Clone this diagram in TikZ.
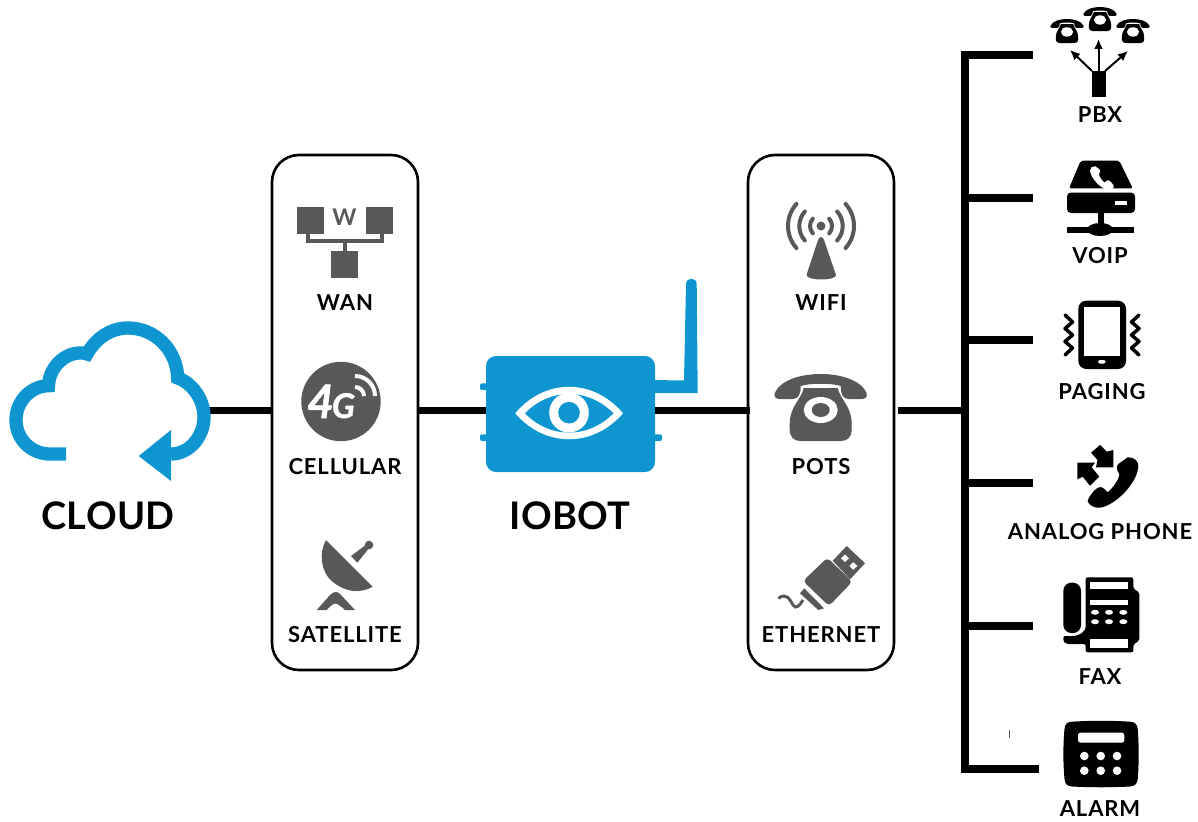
\documentclass[tikz,border=0pt]{standalone}
\usepackage{fontspec}
\setmainfont{Lato}
\newfontfamily\tagfont[LetterSpace=4]{Lato}
\newfontfamily\bigfont[LetterSpace=1]{Lato}
\newfontfamily\markfont[FakeBold=1.2]{Lato}
\usetikzlibrary{arrows.meta}
\definecolor{iobotblue}{HTML}{0F96D1}
\definecolor{icongrey}{HTML}{58585A}
\tikzset{
	panel/.style={draw,line width=2.6pt,rounded corners=27pt,minimum width=146pt,minimum height=515pt,inner sep=0pt},
	wire/.style={line width=7.5pt},
	tag/.style={inner sep=0pt,font=\tagfont\fontsize{22}{25}\selectfont\bfseries},
	bigtag/.style={inner sep=0pt,font=\bigfont\fontsize{38}{42}\selectfont\bfseries},
	fanline/.style={line width=2pt,-{Latex[length=10pt,width=9pt]}},
	pics/deskphone/.style 2 args={code={
		\fill [#1] (-46,19) .. controls (-40,6) and (-20,0) .. (0,0) .. controls (20,0) and (40,6) .. (46,19) .. controls (47,24) and (44,25) .. (40,25) -- (28,25) .. controls (22,25) and (20,20) .. (20,12) .. controls (12,9) and (-12,9) .. (-20,12) .. controls (-20,20) and (-22,25) .. (-28,25) -- (-40,25) .. controls (-44,25) and (-47,24) .. (-46,19) -- cycle;
		\fill [#1] (-17,14) -- (17,14) .. controls (19,25) and (31,32) .. (31,50) -- (31,55) .. controls (31,64) and (26,67) .. (20,67) -- (-20,67) .. controls (-26,67) and (-31,64) .. (-31,55) -- (-31,50) .. controls (-31,32) and (-19,25) .. (-17,14) -- cycle;
		\fill [white] (0,36) ellipse [x radius=17,y radius=13];
		\fill [#2] (0,36) ellipse [x radius=9,y radius=7];
	}},
	pics/handset/.style={code={
		\fill [#1] (14.7,-17.7) .. controls (21,-18.3) and (26,-13.3) .. (25.3,-8.3) .. controls (24.3,5) and (10.3,21.7) .. (-3,29) .. controls (-13,35) and (-21.3,33.3) .. (-25.3,26.7) .. controls (-25.7,23.3) and (-18,13.3) .. (-14,12.3) .. controls (-11.3,11) and (-7,15) .. (-5.7,17.3) .. controls (.3,13.3) and (6.3,3.3) .. (6.3,-.7) .. controls (3.7,-5) and (3,-8.3) .. (5.3,-11) -- cycle;
	}}
}
\begin{document}
\begin{tikzpicture}[x=1pt,y=-1pt]
	\useasboundingbox (0,0) rectangle (1198,821);

	\node [panel] (wanbox) at (345,412.5) {};
	\node [panel] (lanbox) at (821,412.5) {};
	\node [fill=iobotblue,rounded corners=10pt,minimum width=169pt,minimum height=116pt,inner sep=0pt] (iobot) at (570.5,414) {};
	\coordinate (cloudout) at (206,410.5);
	\coordinate (trunkin) at (965,410.5);
	\coordinate (trunktop) at (965,55);
	\coordinate (trunkbot) at (965,769);
	\coordinate (pbxend) at (1033,55);
	\coordinate (voipend) at (1033,198);
	\coordinate (pagingend) at (1033,340);
	\coordinate (analogend) at (1033,483);
	\coordinate (faxend) at (1033,626);
	\coordinate (alarmend) at (1039,769);

	\draw [wire] (cloudout) -- (cloudout -| wanbox.west);
	\draw [wire] (wanbox.east |- cloudout) -- (cloudout -| iobot.west);
	\draw [wire] (iobot.east |- cloudout) -- ([xshift=3pt]cloudout -| lanbox.west);
	\draw [wire] ([xshift=3pt]lanbox.east |- cloudout) -- (trunkin);
	\draw [wire,line cap=rect] (trunktop) -- (trunkbot);
	\draw [wire] (trunktop) -- (pbxend);
	\draw [wire] (trunktop |- voipend) -- (voipend);
	\draw [wire] (trunktop |- pagingend) -- (pagingend);
	\draw [wire] (trunktop |- analogend) -- (analogend);
	\draw [wire] (trunktop |- faxend) -- (faxend);
	\draw [wire] (trunkbot) -- (alarmend);

	\draw [iobotblue,line width=13.3pt,line join=miter] (66,454) -- (50,454) .. controls (31,454) and (16,439) .. (16,420) .. controls (16,401) and (31,386) .. (48.5,385.7) .. controls (49,368) and (64,353) .. (80,353) .. controls (83,353) and (85,353) .. (87,354) .. controls (96,338) and (111,328) .. (128,328) .. controls (155,328) and (177,350) .. (177.7,378) .. controls (192,383) and (204,399) .. (204,417) .. controls (204,437) and (189,454) .. (171,454);
	\fill [iobotblue] (171,430) -- (171,481) -- (138.7,456) -- cycle;
	\node [bigtag] (cloudlabel) at (108,516) {CLOUD};

	\fill [icongrey] (297,207) rectangle (324,234);
	\fill [icongrey] (366,207) rectangle (393,234);
	\fill [icongrey] (331,251) rectangle (358,278);
	\draw [icongrey,line width=4pt] (307.7,234) -- (307.7,241) -- (381.7,241) -- (381.7,234);
	\draw [icongrey,line width=4pt] (344.5,241) -- (344.5,251);
	\node [inner sep=0pt,text=icongrey,font=\fontsize{23}{25}\selectfont\bfseries] (wanmark) at (344.5,217) {W};
	\node [tag] (wanlabel) at (345,302.5) {WAN};

	\fill [icongrey] (341,401.5) circle [radius=39.7];
	\node [inner sep=0pt,anchor=base west,text=white,font=\markfont\bfseries\itshape] (cellmark) at (307,418) {\fontsize{46}{50}\selectfont 4\kern-2pt\fontsize{34}{50}\selectfont G};
	\draw [white,line width=4pt] (355,387) arc [start angle=-90,end angle=0,radius=9];
	\draw [white,line width=4pt] (355,376) arc [start angle=-90,end angle=0,radius=20];
	\node [tag] (celllabel) at (345,466.5) {CELLULAR};

	\fill [icongrey] (326,540) .. controls (319,552) and (320,572) .. (333,582) .. controls (345,592) and (360,594) .. (372.7,586.7) -- cycle;
	\fill [icongrey] (351,556) -- (357.3,562.7) -- (370,547) -- (367,544) -- cycle;
	\fill [icongrey] (369,545) circle [radius=4.3];
	\fill [icongrey] (316.7,610) -- (330,595) .. controls (334,591) and (338,591) .. (341,595) -- (355,610) -- (345,610) .. controls (341,606) and (337,603.5) .. (335.7,603.5) .. controls (334,603.5) and (331,605) .. (326.7,610) -- cycle;
	\node [tag] (satlabel) at (345,634.5) {SATELLITE};

	\fill [iobotblue,rounded corners=2pt] (480,383.3) rectangle (490,390);
	\fill [iobotblue,rounded corners=2pt] (480,434.3) rectangle (490,441);
	\fill [iobotblue,rounded corners=2pt] (650,434.3) rectangle (662,441);
	\fill [iobotblue] (650,380) -- (684,380.5) -- (686,284) .. controls (686,277) and (696.7,277) .. (696.7,284) -- (697.7,393) -- (684,393) -- (650,393) -- cycle;
	\fill [white] (515.3,413.3) .. controls (545,378) and (593,378) .. (623,413.3) .. controls (593,447.9) and (545,447.9) .. (515.3,413.3) -- cycle;
	\fill [iobotblue] (525,413.3) .. controls (550,387.6) and (588,387.6) .. (613.5,413.3) .. controls (588,439) and (550,439) .. (525,413.3) -- cycle;
	\fill [white] (569,412.7) circle [radius=19.8];
	\fill [iobotblue] (569,412.7) circle [radius=10.8];
	\node [bigtag] (iobotlabel) at (570,516) {IOBOT};

	\fill [icongrey] (821,226) circle [radius=4.5];
	\foreach \rad in {11,21.7,33} {
		\draw [icongrey,line width=4pt,line cap=round] (821,226) ++(-42:\rad) arc [start angle=-42,end angle=42,radius=\rad];
		\draw [icongrey,line width=4pt,line cap=round] (821,226) ++(138:\rad) arc [start angle=138,end angle=222,radius=\rad];
	}
	\fill [icongrey] (818,240) .. controls (820,236) and (822,236) .. (824,240) -- (836,275) .. controls (836,281) and (807,281) .. (806.5,275) -- cycle;
	\node [tag] (wifilabel) at (821,302.5) {WIFI};

	\pic (potsphone) at (820.7,374) {deskphone={icongrey}{icongrey}};
	\node [tag] (potslabel) at (821,466.5) {POTS};

	\fill [icongrey] (846.7,546) -- (865,563.3) -- (850,579.3) -- (832.7,560.7) -- cycle;
	\fill [white] (845,554.5) -- (849,558.3) -- (845,562) -- (841,558.3) -- cycle;
	\fill [white] (853.3,562.2) -- (857.3,566) -- (853.3,569.8) -- (849.3,566) -- cycle;
	\fill [icongrey,rounded corners=4pt] (827.3,557.7) -- (852.3,581.7) -- (829,606) -- (803,581) -- cycle;
	\fill [icongrey] (804.3,588.3) -- (824,608.3) -- (818.3,610) -- (800,593.3) -- cycle;
	\draw [icongrey,line width=3pt] (778.3,598.3) .. controls (787,592) and (790,600) .. (793,605) .. controls (796,610) and (800,605) .. (803,600);
	\node [tag] (ethlabel) at (821,634.5) {ETHERNET};

	\pic (pbxleft) [scale=.36] at (1067,19) {deskphone={black}{white}};
	\pic (pbxmid) [scale=.36] at (1100,7) {deskphone={black}{white}};
	\pic (pbxright) [scale=.36] at (1133,19) {deskphone={black}{white}};
	\fill (1092,71) rectangle (1106,97);
	\coordinate (fanleft) at (1092,71);
	\coordinate (fanmid) at (1098.5,71);
	\coordinate (fanright) at (1105,71);
	\coordinate (tipleft) at (1070,50);
	\coordinate (tipmid) at (1098.5,39);
	\coordinate (tipright) at (1128,51);
	\draw [fanline] (fanleft) -- (tipleft);
	\draw [fanline] (fanmid) -- (tipmid);
	\draw [fanline] (fanright) -- (tipright);
	\node [tag] (pbxlabel) at (1100,114.5) {PBX};

	\fill [rounded corners=2pt] (1080.7,160.7) -- (1119.3,160.7) -- (1132.7,188.3) -- (1069,188.3) -- cycle;
	\pic (voiphandset) [xscale=-.47,yscale=.47] at (1102,174.5) {handset=white};
	\fill [rounded corners=4pt] (1067,192.5) rectangle (1135,213);
	\fill [white] (1115,201) rectangle (1127,205);
	\fill (1097.5,213) rectangle (1103.5,225);
	\fill (1067,226.5) rectangle (1134,232.5);
	\fill (1100,229.5) ellipse [x radius=13,y radius=6.5];
	\node [tag] (voiplabel) at (1100,255.5) {VOIP};

	\fill [rounded corners=8pt] (1078.3,300.7) rectangle (1126,369);
	\fill [white] (1084.3,306.7) rectangle (1120,356);
	\fill [white,rounded corners=1.5pt] (1098,360) rectangle (1105.5,363.5);
	\draw [line width=3.5pt,line cap=round,line join=round] (1065,315) -- (1072.5,322) -- (1065,328.5) -- (1072.5,335) -- (1065,341.5) -- (1072.5,348) -- (1065,355);
	\draw [line width=3.5pt,line cap=round,line join=round] (1139,315) -- (1131.5,322) -- (1139,328.5) -- (1131.5,335) -- (1139,341.5) -- (1131.5,348) -- (1139,355);
	\node [tag] (paginglabel) at (1102,391.5) {PAGING};

	\pic (analoghandset) at (1113,475) {handset=black};
	\fill (1100,445) -- (1106.7,451.7) -- (1113.3,450) -- (1113.3,467.3) -- (1096,467.3) -- (1097.5,460) -- (1091,452.7) -- cycle;
	\fill (1077.3,462.7) -- (1095,462.7) -- (1091.7,467.3) -- (1099.3,476.7) -- (1090,485.7) -- (1082.7,476.7) -- (1077.3,479.3) -- cycle;
	\node [tag] (analoglabel) at (1100,531.5) {ANALOG PHONE};

	\fill [rounded corners=8pt] (1063.3,582.7) rectangle (1081,633);
	\fill [rounded corners=2pt] (1085.7,577.3) -- (1133.3,577.3) -- (1133.3,589) -- (1139.3,592) -- (1139.3,641) -- (1133.3,644) -- (1133.3,652.3) -- (1085.7,652.3) -- (1085.7,644) -- (1070,644) .. controls (1065,644) and (1063.3,642) .. (1063.3,636) -- (1070,636) .. controls (1081,636) and (1085.7,630) .. (1085.7,625) -- cycle;
	\fill [white] (1090.3,581.7) rectangle (1128.3,589.3);
	\fill [white] (1090.3,600) rectangle (1128.3,605);
	\fill [white] (1090.3,639) rectangle (1128.3,647.7);
	\foreach \keyx in {1095,1109,1123.3} {
		\foreach \keyy in {612.3,621.7} {
			\fill [white] (\keyx,\keyy) ellipse [x radius=4,y radius=2.5];
		}
	}
	\node [tag] (faxlabel) at (1100,676.5) {FAX};

	\fill [icongrey] (1009,730) rectangle (1010,738);
	\fill (1072,721.7) .. controls (1090,720.5) and (1112,720.5) .. (1130,721.7) .. controls (1135,722) and (1137,724) .. (1137.7,729) .. controls (1139,745) and (1139,763) .. (1137.7,779) .. controls (1137,784) and (1135,786) .. (1130,786.5) .. controls (1112,787.5) and (1090,787.5) .. (1072,786.5) .. controls (1067,786) and (1065,784) .. (1064.5,779) .. controls (1063,763) and (1063,745) .. (1064.5,729) .. controls (1065,724) and (1067,722) .. (1072,721.7) -- cycle;
	\fill [white,rounded corners=2.5pt] (1078,732.7) rectangle (1124.3,742.7);
	\foreach \keyx in {1084.3,1100.7,1117} {
		\foreach \keyy in {756,770.7} {
			\fill [white] (\keyx,\keyy) circle [radius=4.3];
		}
	}
	\node [tag] (alarmlabel) at (1100,809) {ALARM};
\end{tikzpicture}
\end{document}
